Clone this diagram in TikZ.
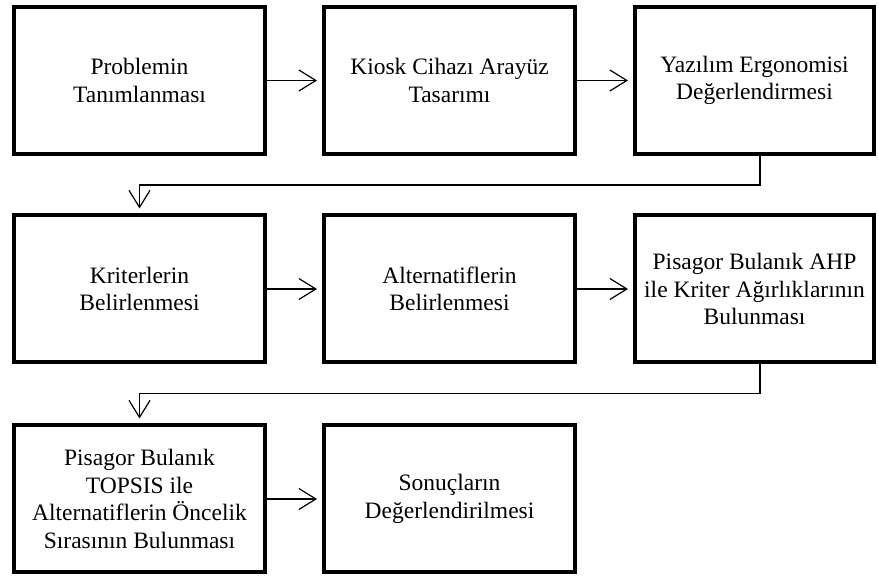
\documentclass[tikz,border=0pt]{standalone}
\usepackage{fontspec}
\setmainfont{Liberation Serif}
\usepackage{tikz}
\usetikzlibrary{arrows.meta,positioning,calc}

\begin{document}
\begin{tikzpicture}[
        x=1pt, y=1pt,
        every node/.style={font=\fontsize{23.5}{27.5}\selectfont},
        proc/.style={draw, line width=4pt, align=center, minimum height=147pt, inner sep=2pt},
        flow/.style={-{Straight Barb[length=17pt, width=21pt, line width=1.2pt]}, line width=1.2pt, shorten >=5pt}
    ]
    \useasboundingbox (0,0) rectangle (879,578);

    % ============ satir 1 ============
    \node[proc, minimum width=251pt] (prob)  at (139.5,497.5) {Problemin\\Tanımlanması};
    \node[proc, minimum width=251pt] (kiosk) at (449.5,497.5) {Kiosk Cihazı Arayüz\\Tasarımı};
    \node[proc, minimum width=239pt] (ergo)  at (754.5,497.5) {Yazılım Ergonomisi\\Değerlendirmesi};

    % ============ satir 2 ============
    \node[proc, minimum width=251pt] (krit)  at (139.5,289) {Kriterlerin\\Belirlenmesi};
    \node[proc, minimum width=251pt] (alt)   at (449.5,289) {Alternatiflerin\\Belirlenmesi};
    \node[proc, minimum width=239pt] (ahp)   at (754.5,289) {Pisagor Bulanık AHP\\ile Kriter Ağırlıklarının\\Bulunması};

    % ============ satir 3 ============
    \node[proc, minimum width=251pt] (topsis) at (139.5,79) {Pisagor Bulanık\\TOPSIS ile\\Alternatiflerin Öncelik\\Sırasının Bulunması};
    \node[proc, minimum width=251pt] (sonuc)  at (449.5,79) {Sonuçların\\Değerlendirilmesi};

    % yatay oklar
    \draw[flow] (prob) -- (kiosk);
    \draw[flow] (kiosk) -- (ergo);
    \draw[flow] (krit) -- (alt);
    \draw[flow] (alt) -- (ahp);
    \draw[flow] (topsis) -- (sonuc);

    % satir gecisleri
    \draw[flow] ([xshift=5.5pt]ergo.south) -- ++(0,-29) -| (krit.north);
    \draw[flow] ([xshift=5.5pt]ahp.south) -- ++(0,-29) -| (topsis.north);
\end{tikzpicture}
\end{document}
